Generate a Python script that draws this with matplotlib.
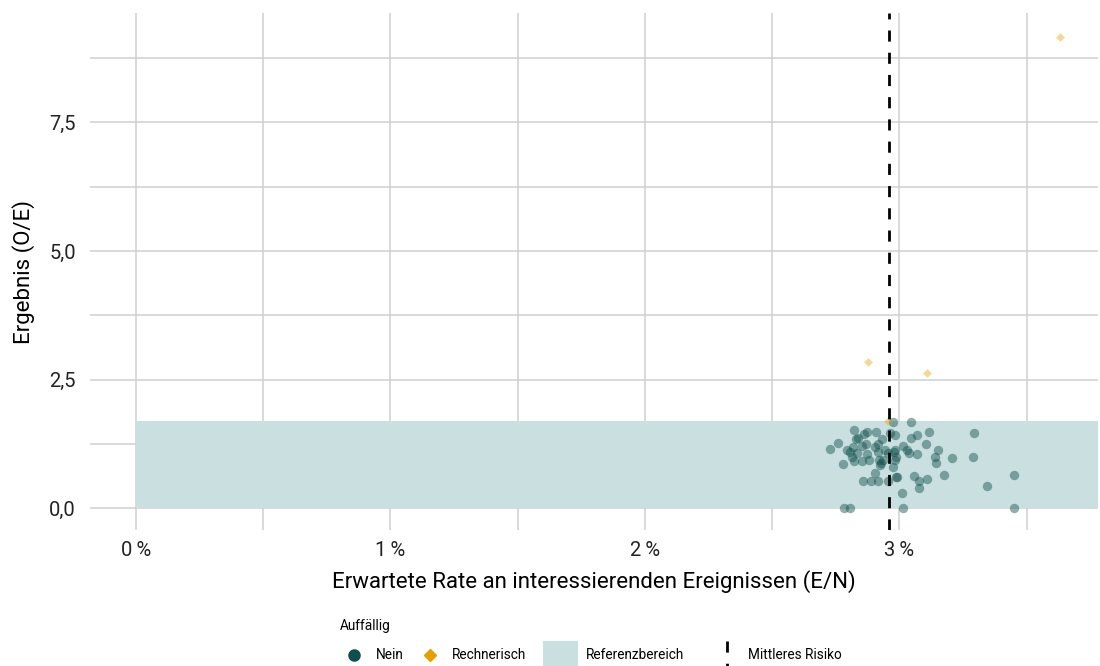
import numpy as np
import matplotlib.pyplot as plt
from matplotlib.lines import Line2D
from matplotlib.patches import Rectangle
from matplotlib.ticker import FuncFormatter, MultipleLocator

plt.rcParams['font.family'] = ['Roboto', 'DejaVu Sans']

# expected rate (%) and O/E for the "Nein" group
nein_x = [2.728, 2.758, 2.778, 2.783, 2.807, 2.794, 2.807, 2.813, 2.822, 2.824,
          2.820, 2.829, 2.839, 2.833, 2.853, 2.855, 2.859, 2.862, 2.872, 2.869,
          2.872, 2.882, 2.889, 2.906, 2.909, 2.906, 2.915, 2.915, 2.915, 2.921,
          2.925, 2.929, 2.932, 2.935, 2.944, 2.956, 2.957, 2.964, 2.974, 2.977,
          2.980, 2.983, 2.983, 2.987, 2.987, 2.992, 2.983, 3.010, 3.014, 3.016,
          3.029, 3.040, 3.046, 3.046, 3.058, 3.069, 3.069, 3.078, 3.079, 3.105,
          3.108, 3.116, 3.141, 3.143, 3.154, 3.176, 3.209, 3.289, 3.294, 3.344,
          3.449, 3.449]
nein_y = [1.154, 1.259, 0.856, 0.0, 0.0, 1.128, 1.095, 0.986, 0.914, 1.518,
          1.193, 1.348, 1.356, 1.076, 1.212, 0.914, 0.519, 1.434, 1.473, 1.239,
          1.051, 0.934, 0.525, 0.687, 1.473, 1.187, 1.239, 1.095, 0.525, 0.934,
          0.837, 0.870, 1.342, 0.934, 1.128, 1.064, 0.525, 1.453, 1.679, 0.804,
          1.095, 1.426, 1.128, 0.998, 0.609, 0.609, 0.934, 0.298, 0.0, 1.206,
          1.128, 1.064, 1.368, 1.673, 0.623, 1.420, 1.045, 0.525, 0.395, 1.251,
          0.564, 1.473, 0.986, 0.870, 1.128, 0.642, 0.979, 0.998, 1.465, 0.434,
          0.642, 0.0]

# "Rechnerisch" group
rech_x = [2.877, 3.109, 3.632, 2.956]
rech_y = [2.84, 2.63, 9.16, 1.69]

ref_upper = 1.69      # Referenzbereich 0 .. ref_upper
mean_risk = 2.96      # Mittleres Risiko (%)

green = '#0f4f4b'
orange = '#e69f00'
band = '#c9dfe0'
grid_c = '#d0d0d0'

fig = plt.figure(figsize=(11, 6.66), dpi=100)
ax = fig.add_axes([0.0818, 0.204, 0.9162, 0.7765])

ax.set_xlim(-0.18, 3.78)
ax.set_ylim(-0.43, 9.63)

ax.axhspan(0, ref_upper, xmin=(0 + 0.18) / 3.96, xmax=1, color=band, zorder=1, lw=0)
ax.scatter(nein_x, nein_y, s=46, color=green, alpha=0.45, lw=0, zorder=3)
ax.scatter(rech_x, rech_y, marker='D', s=20, color=orange, alpha=0.4, lw=0, zorder=3)
ax.axvline(mean_risk, color='black', lw=2, ls=(0, (4, 4)), zorder=4)

ax.xaxis.set_major_locator(MultipleLocator(1))
ax.xaxis.set_minor_locator(MultipleLocator(0.5))
ax.yaxis.set_major_locator(MultipleLocator(2.5))
ax.yaxis.set_minor_locator(MultipleLocator(1.25))
ax.xaxis.set_major_formatter(FuncFormatter(lambda v, p: f'{v:.0f}\u2009%'))
ax.yaxis.set_major_formatter(FuncFormatter(lambda v, p: f'{v:.1f}'.replace('.', ',')))
ax.grid(which='both', color=grid_c, lw=1.1, zorder=0)
ax.set_axisbelow(True)
ax.tick_params(which='both', length=0, labelsize=14.5, colors='#222222')
ax.tick_params(axis='x', pad=8)
ax.tick_params(axis='y', pad=10)
for s in ax.spines.values():
    s.set_visible(False)

ax.set_xlabel('Erwartete Rate an interessierenden Ereignissen (E/N)', fontsize=16, labelpad=7)
ax.set_ylabel('Ergebnis (O/E)', fontsize=16, labelpad=10)

# legend drawn by hand below the plot
def fx(px):
    return px / 1100

def fy(py):
    return 1 - py / 666

fig.text(fx(340), fy(626), 'Auffällig', fontsize=9.8, va='center', ha='left')
ly = fy(655)
fig.add_artist(Line2D([fx(354)], [ly], marker='o', ms=8, color=green, lw=0))
fig.text(fx(376), ly, 'Nein', fontsize=9.8, va='center')
fig.add_artist(Line2D([fx(430)], [ly], marker='D', ms=6, color=orange, lw=0))
fig.text(fx(452), ly, 'Rechnerisch', fontsize=9.8, va='center')
fig.add_artist(Rectangle((fx(543), fy(668)), fx(35), 27 / 666, color=band, lw=0))
fig.text(fx(586), ly, 'Referenzbereich', fontsize=9.8, va='center')
fig.add_artist(Line2D([fx(727), fx(727)], [fy(641), fy(668)], color='black', lw=2, ls=(0, (4, 4))))
fig.text(fx(748), ly, 'Mittleres Risiko', fontsize=9.8, va='center')

fig.savefig('out.png', dpi=100)
